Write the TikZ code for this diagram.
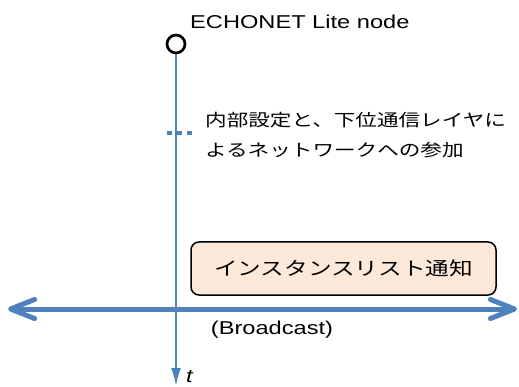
\documentclass[tikz,border=0pt]{standalone}
\usepackage{fontspec}
\setmainfont{Liberation Sans}[FakeStretch=1.27]
\newfontfamily\jpfont{Noto Sans CJK JP}[FakeStretch=1.27]
\usetikzlibrary{arrows.meta}
\definecolor{lineblue}{HTML}{4F81BD}
\definecolor{peach}{HTML}{FDE9D9}
\tikzset{
  lbl/.style={font=\fontsize{18.6}{22}\selectfont, inner sep=0pt},
  jplbl/.style={font=\jpfont\fontsize{17}{30}\selectfont, inner sep=0pt, align=left},
  msgbox/.style={draw=black, line width=1.5pt, fill=peach, rounded corners=8pt, minimum width=305pt, minimum height=53pt, inner sep=0pt, font=\jpfont\fontsize{18.6}{22}\selectfont},
  timeline/.style={draw=lineblue, line width=1.8pt, -{Latex[length=18pt,width=10pt]}},
  bcast/.style={draw=lineblue, line width=5pt, line cap=round, {Straight Barb[length=24pt,width=19pt,line cap=round,line join=round]}-{Straight Barb[length=24pt,width=19pt,line cap=round,line join=round]}},
  dotline/.style={draw=lineblue, line width=4.5pt, dash pattern=on 5pt off 5pt},
  nodecircle/.style={circle, draw=black, line width=2.7pt, minimum size=18pt, inner sep=0pt, fill=white}
}
\begin{document}
\begin{tikzpicture}[x=1pt,y=-1pt]
\useasboundingbox (0,0) rectangle (519,387);
\node[nodecircle] (n) at (176,44) {};
\coordinate (tend) at (176,386);
\coordinate (bl) at (8,309);
\coordinate (br) at (517,309);
\coordinate (dl) at (167,133);
\coordinate (dr) at (195,133);
\draw[bcast] (bl) -- (br);
\draw[timeline] (n.south) -- (tend);
\draw[dotline] (dl) -- (dr);
\node[lbl, anchor=west] (title) at (190,22) {ECHONET Lite node};
\node[jplbl, anchor=north west] (setup) at (205,112) {内部設定と、下位通信レイヤに\\よるネットワークへの参加};
\node[msgbox] (msg) at (343.5,268.5) {インスタンスリスト通知};
\node[lbl, anchor=center] (bc) at (272,330) {(Broadcast)};
\node[lbl, anchor=west, font=\itshape\fontsize{18.6}{22}\selectfont] (t) at (186,377) {t};
\end{tikzpicture}
\end{document}
